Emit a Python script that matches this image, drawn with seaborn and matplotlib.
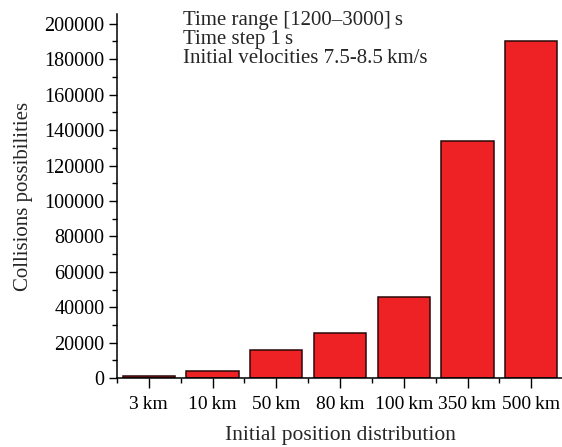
import matplotlib
matplotlib.use("Agg")
import matplotlib.pyplot as plt
from matplotlib.ticker import MultipleLocator, FixedLocator, NullFormatter
import seaborn as sns

categories = ["3\u2009km", "10\u2009km", "50\u2009km", "80\u2009km", "100\u2009km", "350\u2009km", "500\u2009km"]
collisions = [1000, 3800, 16000, 25500, 46000, 134000, 190000]
y_ticks = [0, 20000, 40000, 60000, 80000, 100000, 120000, 140000, 160000, 180000, 200000]
notes = ["Time range [1200\u20133000]\u2009s", "Time step 1\u2009s", "Initial velocities 7.5-8.5\u2009km/s"]

sns.set_style("ticks")
plt.rcParams["font.family"] = ["Liberation Serif", "DejaVu Serif"]
plt.rcParams["font.size"] = 14

fig = plt.figure(figsize=(5.62, 4.47), dpi=100)
ax = fig.add_axes([0.208, 0.154, 0.794, 0.815])

sns.barplot(x=categories, y=collisions, ax=ax, color="#ee2224", saturation=1,
            width=0.82, edgecolor="#2a0808", linewidth=1.1)

ax.set_xlim(-0.5, 6.5)
ax.set_ylim(0, 205600)
ax.set_yticks(y_ticks)
ax.set_yticklabels([str(v) for v in y_ticks])
ax.yaxis.set_minor_locator(MultipleLocator(10000))
ax.xaxis.set_minor_locator(FixedLocator([i + 0.5 for i in range(-1, 7)]))
ax.xaxis.set_minor_formatter(NullFormatter())

ax.tick_params(axis="y", which="major", direction="out", length=6, width=1, colors="black", labelsize=14.5, pad=3)
ax.tick_params(axis="x", which="major", direction="out", length=7, width=1, colors="black", labelsize=14, pad=6)
ax.tick_params(axis="both", which="minor", direction="out", length=3.5, width=1, colors="black")

for side in ("top", "right"):
    ax.spines[side].set_visible(False)
for side in ("left", "bottom"):
    ax.spines[side].set_linewidth(1.1)
    ax.spines[side].set_color("black")

ax.set_xlabel("Initial position distribution", fontsize=15.5, labelpad=9)
ax.set_ylabel("Collisions possibilities", fontsize=15, labelpad=8)

for i, line in enumerate(notes):
    fig.text(183 / 562, 1 - (25 + 19 * i) / 447, line, ha="left", va="baseline", fontsize=15)

fig.savefig("out.png", dpi=100)
